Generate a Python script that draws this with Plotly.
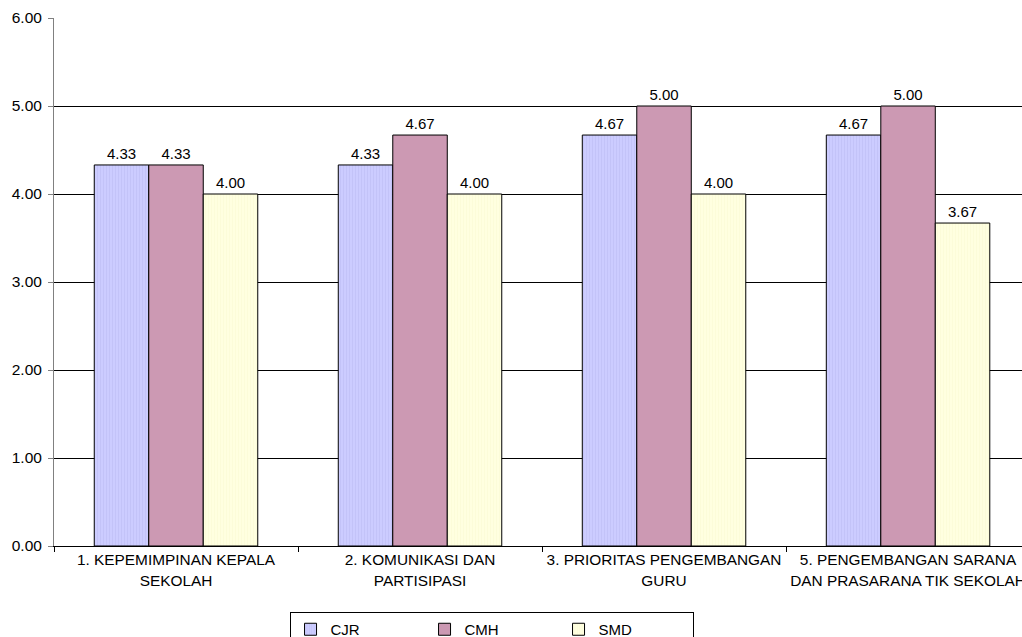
import plotly.graph_objects as go

categories = ["1. KEPEMIMPINAN KEPALA<br>SEKOLAH", "2. KOMUNIKASI DAN<br>PARTISIPASI",
              "3. PRIORITAS PENGEMBANGAN<br>GURU", "5. PENGEMBANGAN SARANA<br>DAN PRASARANA TIK SEKOLAH"]
cjr = [4.33, 4.33, 4.67, 4.67]
cmh = [4.33, 4.67, 5.00, 5.00]
smd = [4.00, 4.00, 4.00, 3.67]
y_ticks = [0, 1, 2, 3, 4, 5, 6]

font = "Liberation Sans, Arial, sans-serif"
fs = 15

fig = go.Figure()
series = [
    ("CJR", cjr, dict(color="#CCCCFF", pattern=dict(shape="|", fgcolor="#B8B8F0", bgcolor="#CCCCFF", size=3, solidity=0.3))),
    ("CMH", cmh, dict(color="#CC99B3")),
    ("SMD", smd, dict(color="#FFFFE0", pattern=dict(shape="|", fgcolor="#F8F8D0", bgcolor="#FFFFE0", size=3, solidity=0.3))),
]
for name, vals, mk in series:
    mk = dict(mk)
    mk["line"] = dict(color="black", width=1)
    fig.add_trace(go.Bar(
        name=name, x=categories, y=vals, marker=mk,
        text=[f"{v:.2f}" for v in vals], textposition="outside",
        textfont=dict(family=font, size=15, color="black"), cliponaxis=False,
    ))

fig.update_layout(
    width=1022, height=637,
    margin=dict(l=54, r=0, t=18, b=91, autoexpand=False),
    paper_bgcolor="white", plot_bgcolor="white",
    font=dict(family=font, size=fs, color="black"),
    barmode="group", bargap=0.33, bargroupgap=0,
    showlegend=True,
    legend=dict(orientation="h", x=0.452, xanchor="center", y=-0.125, yanchor="top",
                bordercolor="black", borderwidth=1, entrywidth=89, entrywidthmode="pixels",
                font=dict(family=font, size=fs, color="black"), itemwidth=30,
                traceorder="normal"),
)
fig.update_xaxes(
    type="category", range=[-0.5, 3.467], tickson="boundaries",
    ticks="outside", ticklen=5, tickcolor="black", automargin=False,
    showline=True, linecolor="black", linewidth=1, showgrid=False,
    tickfont=dict(family=font, size=15.4, color="black"),
)
fig.update_yaxes(
    range=[0, 6], tickvals=y_ticks, ticktext=[f"{v:.2f}" for v in y_ticks],
    ticks="outside", ticklen=5, tickcolor="#808080", automargin=False,
    ticklabelstandoff=3,
    showline=True, linecolor="#808080", linewidth=1,
    showgrid=True, gridcolor="black", gridwidth=1, zeroline=False,
    tickfont=dict(family=font, size=15.5, color="black"),
)
fig.write_html("out.html", config={"displayModeBar": False},
               post_script="document.body.style.margin='0';document.body.style.overflow='hidden';")
